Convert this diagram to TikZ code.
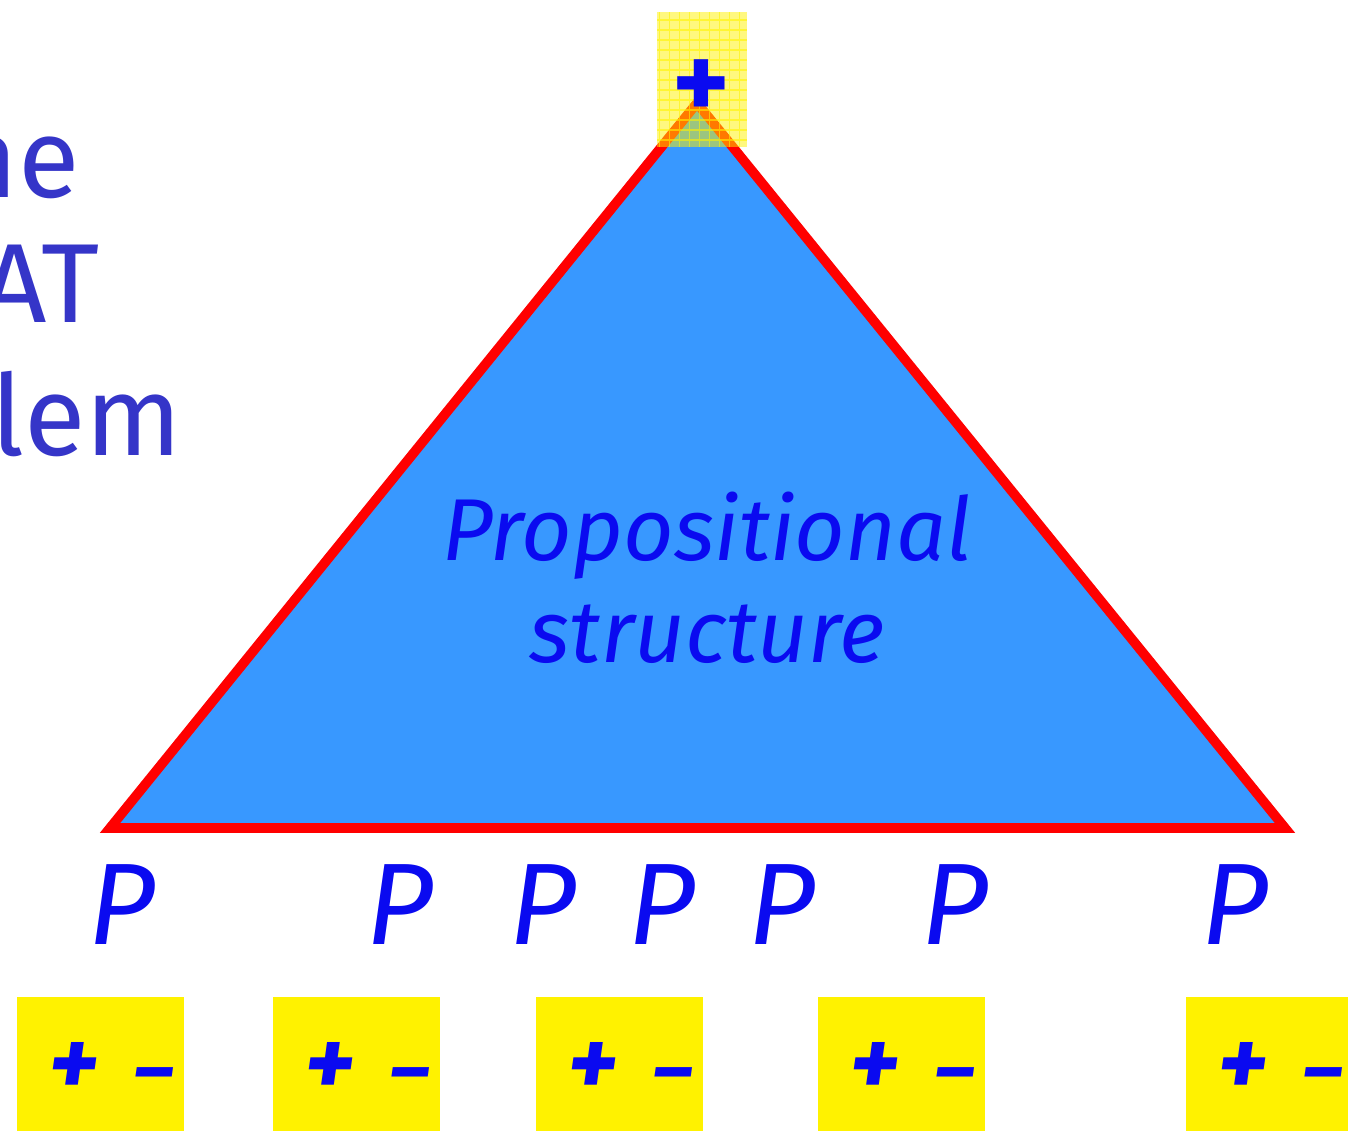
\documentclass[tikz,border=0pt]{standalone}
\usepackage{fontspec}
\setmainfont{Fira Sans}
\usetikzlibrary{positioning}
\definecolor{triblue}{HTML}{3898FF}
\definecolor{inkblue}{HTML}{0A0AF0}
\definecolor{titleblue}{HTML}{3535C8}
\tikzset{
  title/.style={text=titleblue, anchor=base east, inner sep=0pt,
    font=\fontsize{64}{64}\selectfont},
  prop/.style={text=inkblue, inner sep=0pt,
    font=\fontsize{66}{66}\selectfont\itshape},
  signbox/.style={fill=yellow, anchor=north west, minimum width=3.34cm,
    minimum height=2.68cm, inner sep=0pt},
  signs/.style={text=inkblue, font=\fontsize{56}{56}\selectfont\bfseries\itshape},
}

\begin{document}
\begin{tikzpicture}[x=0.02cm,y=-0.02cm]
\useasboundingbox (0,0) rectangle (1348,1136);
\clip (0,0) rectangle (1348,1136);

% title, cut at the left edge
\node[title] (t1) at (80,197) {The};
\node[title] (t2) at (100,322) {SAT};
\node[title] (t3) at (182,455) {Problem};

% the triangle
\coordinate (apex) at (697,103);
\coordinate (bl) at (110,828);
\coordinate (br) at (1285,828);
\draw[red, line width=5.5pt, line join=miter, fill=triblue]
  (apex) -- (bl) -- (br) -- cycle;
\node[text=inkblue, align=center, font=\fontsize{50}{58}\selectfont\itshape]
  (ps) at (707,578) {Propositional\\structure};

% root
\fill[yellow, opacity=0.5] (657,12) rectangle (747,147);
\draw[yellow, opacity=0.6, line width=0.6pt, step=0.2cm]
  (657,12) grid (747,147);
\node[text=inkblue, font=\fontsize{62}{62}\selectfont\bfseries] (root) at (701,90) {+};

% leaves
\foreach \x [count=\i] in {122,400,543,662,782,955,1235}
  \node[prop] (p\i) at (\x,905) {P};

% sign boxes
\foreach \x [count=\i] in {17,273,536,818,1186}{
  \node[signbox] (b\i) at (\x,997) {};
  \node[signs, xshift=0.2cm, yshift=-0.1cm] (s\i) at (b\i.center)
    {+\hspace{0.7cm}\fontsize{44}{44}\selectfont–};
}
\end{tikzpicture}
\end{document}
